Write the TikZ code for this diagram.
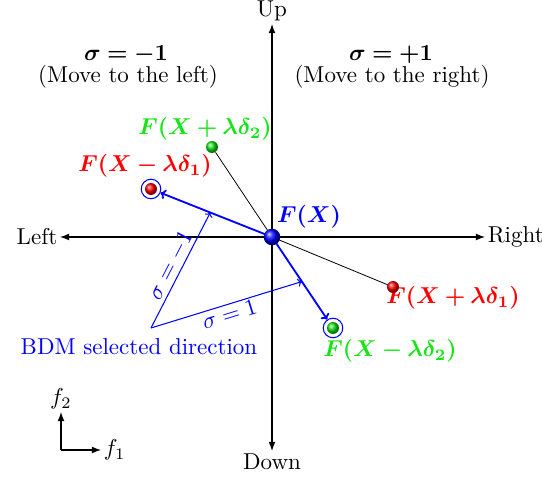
\documentclass[tikz,border=0pt]{standalone}
\usepackage{bm}
\usetikzlibrary{arrows.meta,calc}
\definecolor{bgreen}{RGB}{20,230,20}
\begin{document}
\begin{tikzpicture}[x=0.4348pt,y=-0.4348pt,
  axisarrow/.style={-{Latex[length=4pt,width=3pt]},line width=0.45pt},
  bigball/.style={circle,inner sep=0pt,minimum size=7.2pt,shading=ball,ball color=#1},
  smallball/.style={circle,inner sep=0pt,minimum size=5.2pt,shading=ball,ball color=#1},
  ring/.style={circle,draw=blue,line width=0.45pt,inner sep=0pt,minimum size=8.5pt},
  thinline/.style={line width=0.35pt},
  bluearrow/.style={blue,line width=0.8pt,-{To[length=2.2pt,width=4.4pt]}},
  selarrow/.style={blue,line width=0.45pt,-{To[length=1.8pt,width=3.6pt]}},
  lab/.style={inner sep=1pt}]
\useasboundingbox (0,0) rectangle (542,477);
% axes
\coordinate (o) at (272,237);
\coordinate (lt) at (60,237);
\coordinate (rt) at (485,237);
\coordinate (up) at (272,24);
\coordinate (dn) at (272,451);
\draw[axisarrow] (o) -- (lt);
\draw[axisarrow] (o) -- (rt);
\draw[axisarrow] (o) -- (up);
\draw[axisarrow] (o) -- (dn);
\node[lab,anchor=east] (tleft) at (lt) {Left};
\node[lab,anchor=west] (tright) at (rt) {Right};
\node[lab,anchor=south] (tup) at (up) {Up};
\node[lab,anchor=north] (tdown) at (dn) {Down};
% headings
\node[lab] (sm) at (126,55) {$\bm{\sigma=-1}$};
\node[lab] (smt) at (128,77) {(Move to the left)};
\node[lab] (sp) at (391,55) {$\bm{\sigma=+1}$};
\node[lab] (spt) at (392,77) {(Move to the right)};
% balls
\node[smallball=bgreen] (g2) at (212,147) {};
\node[smallball=red] (r1) at (151,189) {};
\node[ring] (c1) at (151,189) {};
\node[smallball=bgreen] (g1) at (333,328) {};
\node[ring] (c2) at (333,328) {};
% black lines
\draw[thinline] (o) -- (g2);
\coordinate (r2p) at (393,287);
\draw[thinline] (o) -- (r2p);
% labels
\node[lab,text=red] (lr2) at (453,298) {$\bm{F(X+\lambda\delta_1)}$};
\node[smallball=red] (r2) at (r2p) {};
% blue arrows
\draw[bluearrow] (o) -- (c1);
\draw[bluearrow] (o) -- (c2);
\node[bigball=blue] (fx) at (o) {};
\node[lab,text=blue] (lfx) at (309,217) {$\bm{F(X)}$};
\node[lab,text=bgreen] (lg2) at (205,129) {$\bm{F(X+\lambda\delta_2)}$};
\node[lab,text=red] (lr1) at (145,166) {$\bm{F(X-\lambda\delta_1)}$};
\node[lab,text=bgreen] (lg1) at (390,351) {$\bm{F(X-\lambda\delta_2)}$};
% BDM selected
\coordinate (bdm) at (151,328);
\coordinate (m1) at ($(o)!0.51!(r1)$);
\coordinate (m2) at ($(o)!0.49!(g1)$);
\draw[selarrow] (bdm) -- (m1) node[midway,sloped,above,text=blue,inner sep=1pt] {$\sigma=-1$};
\draw[selarrow] (bdm) -- (m2) node[midway,sloped,below,text=blue,inner sep=1pt] {$\sigma=1$};
\node[lab,text=blue] (bdmt) at (139,347) {BDM selected direction};
% small frame
\coordinate (fo) at (61,450);
\coordinate (f2e) at (61,412);
\coordinate (f1e) at (101,450);
\draw[axisarrow] (fo) -- (f2e);
\draw[axisarrow] (fo) -- (f1e);
\node[lab,anchor=south] (lf2) at (f2e) {$f_2$};
\node[lab,anchor=west] (lf1) at (f1e) {$f_1$};
\end{tikzpicture}
\end{document}
